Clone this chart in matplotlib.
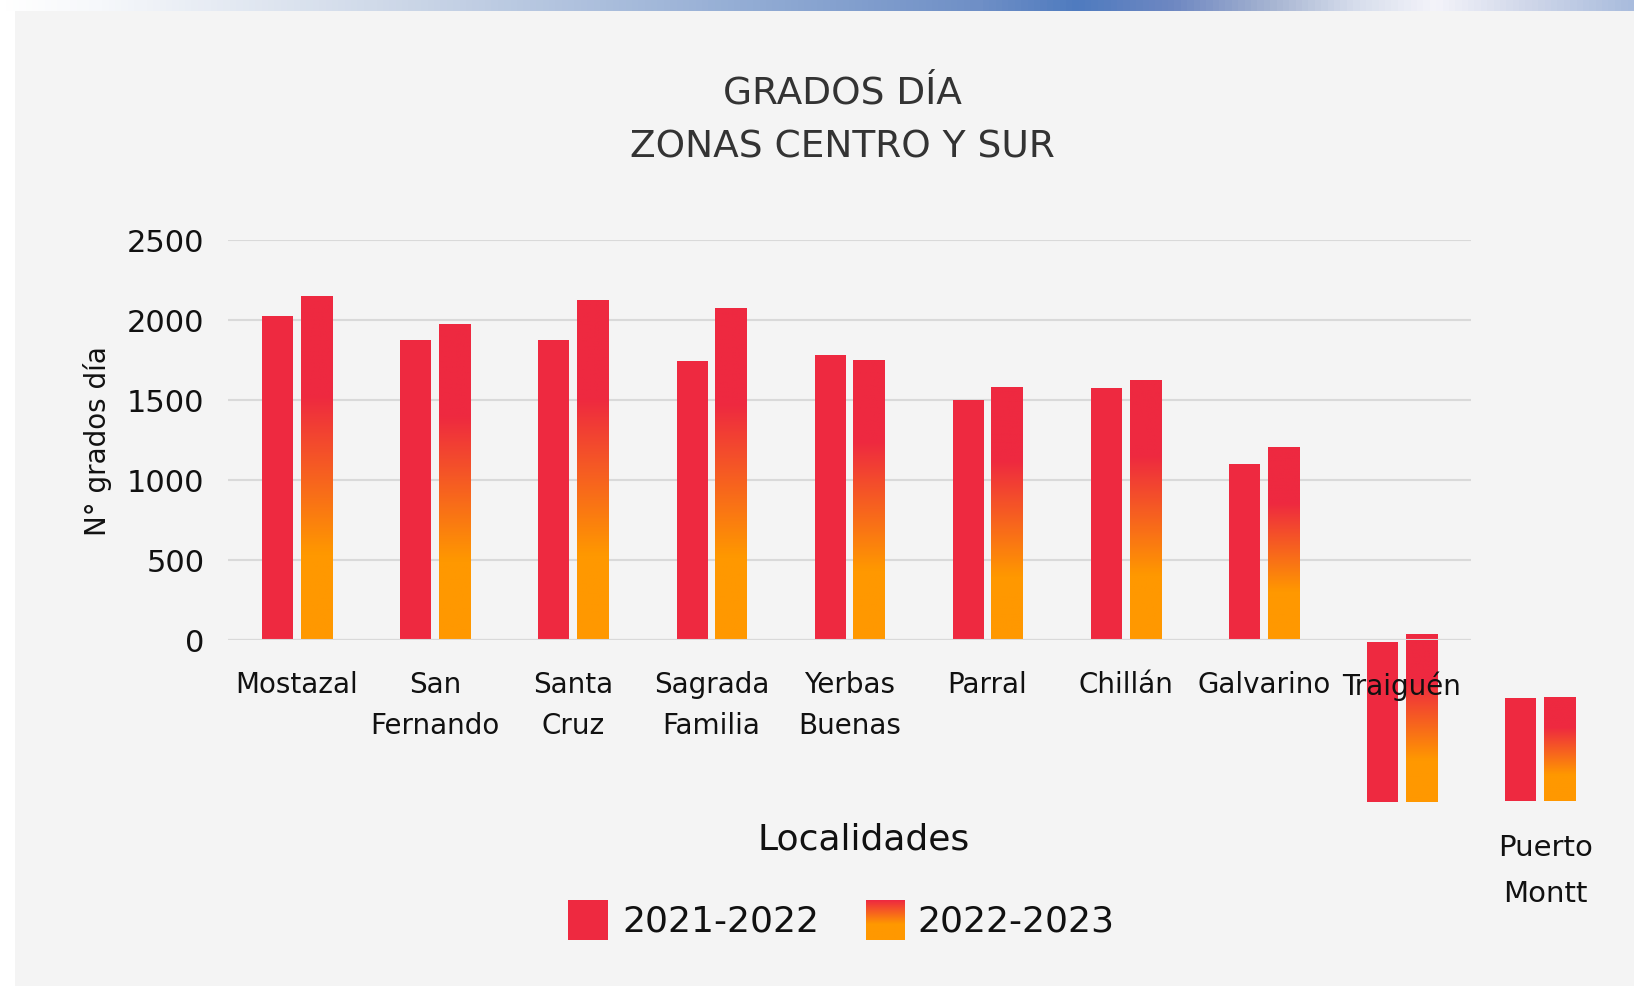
import numpy as np
import matplotlib.pyplot as plt
from matplotlib.colors import LinearSegmentedColormap
from matplotlib.patches import Rectangle

# datos
localidades = ['Mostazal', 'San\nFernando', 'Santa\nCruz', 'Sagrada\nFamilia', 'Yerbas\nBuenas',
               'Parral', 'Chillán', 'Galvarino', 'Traiguén', 'Puerto\nMontt']
t_2122 = [2023, 1873, 1873, 1744, 1779, 1498, 1573, 1100, 1000, 644]
t_2223 = [2150, 1975, 2125, 2073, 1744, 1579, 1625, 1204, 1050, 644]
# las dos ultimas barras aparecen desplazadas en la imagen original
base = [0, 0, 0, 0, 0, 0, 0, 0, -1015, -1008]
yticks = [0, 500, 1000, 1500, 2000, 2500]

ROJO = '#EE2940'
NARANJA = '#FF9800'
grad_cmap = LinearSegmentedColormap.from_list(
    'grad', [(0, NARANJA), (0.25, NARANJA), (0.71, ROJO), (1, ROJO)])

plt.rcParams['font.family'] = ['DejaVu Sans']

W, H = 1634, 987
fig = plt.figure(figsize=(W / 100, H / 100), dpi=100, facecolor='white')

# franja superior y panel gris
banner = fig.add_axes([0, 1 - 12 / H, 1, 12 / H])
banner_cmap = LinearSegmentedColormap.from_list(
    'banner', [(0, '#FFFFFF'), (0.06, '#F6F8FB'), (0.25, '#CBD6E7'), (0.45, '#95AED5'),
               (0.6, '#6F8FC6'), (0.66, '#4F7BBF'), (0.72, '#6F88C2'), (0.78, '#A7B5D2'),
               (0.83, '#D6DDEC'), (0.88, '#F4F4FA'), (0.93, '#D4DAEB'), (1, '#A9BCDD')])
banner.imshow(np.linspace(0, 1, 512).reshape(1, -1), cmap=banner_cmap, aspect='auto')
banner.axis('off')
fig.patches.append(Rectangle((15 / W, 0), 1, 1 - 12 / H, transform=fig.transFigure,
                             facecolor='#F4F4F4', edgecolor='none', zorder=-10))

ax = fig.add_axes([228 / W, 1 - 640.7 / H, 1243 / W, 400 / H])
ax.set_facecolor('none')

x = np.arange(len(localidades))
w = 0.225
off = 0.14
b1 = ax.bar(x - off, t_2122, w, bottom=base, color=ROJO, zorder=3, clip_on=False)
b2 = ax.bar(x + off, t_2223, w, bottom=base, color='none', zorder=3, clip_on=False)

grad = np.linspace(0, 1, 256).reshape(-1, 1)
for p in b2:
    x0, y0, bw, bh = p.get_x(), p.get_y(), p.get_width(), p.get_height()
    ax.imshow(grad, cmap=grad_cmap, origin='lower', aspect='auto',
              extent=[x0, x0 + bw, y0, y0 + bh], zorder=3, clip_on=False)

ax.set_xlim(-0.5, 8.5)
ax.set_ylim(0, 2500)
ax.set_yticks(yticks)
ax.set_xticks(x[:9])
ax.set_xticklabels(localidades[:9], fontsize=20, linespacing=1.6, color='#111111')
ax.tick_params(axis='x', length=0, pad=22)
ax.tick_params(axis='y', length=0, pad=17, labelsize=22, labelcolor='#111111')
ax.yaxis.grid(True, color='#D9D9D9', linewidth=1.5, zorder=0)
ax.set_axisbelow(True)
ax.xaxis.set_zorder(5)
ax.axhline(0, color='#D9D9D9', linewidth=1.5, zorder=4)
for s in ax.spines.values():
    s.set_visible(False)

# Puerto Montt queda fuera del eje
ax.text(x[9] + 0.04, -1440, localidades[9], ha='center', va='center', fontsize=21,
        linespacing=1.85, color='#111111', clip_on=False)

fig.text(842 / W, 1 - 93 / H, 'GRADOS DÍA', ha='center', va='center', fontsize=27, color='#333333')
fig.text(842 / W, 1 - 148 / H, 'ZONAS CENTRO Y SUR', ha='center', va='center', fontsize=27, color='#333333')
fig.text(97 / W, 1 - 441 / H, 'N° grados día', rotation=90, ha='center', va='center', fontsize=20, color='#111111')
fig.text(864 / W, 1 - 840 / H, 'Localidades', ha='center', va='center', fontsize=26, color='#111111')

# leyenda manual
fig.patches.append(Rectangle((568 / W, 1 - 941 / H), 40 / W, 40 / H, transform=fig.transFigure,
                             facecolor=ROJO, edgecolor='none'))
leg = fig.add_axes([866 / W, 1 - 941 / H, 39 / W, 40 / H])
leg.imshow(np.linspace(0, 1, 64).reshape(-1, 1), cmap=LinearSegmentedColormap.from_list(
    'leg', [(0, NARANJA), (0.4, NARANJA), (1, ROJO)]), origin='lower', aspect='auto')
leg.axis('off')
fig.text(622 / W, 1 - 921 / H, '2021-2022', ha='left', va='center', fontsize=26, color='#111111')
fig.text(917 / W, 1 - 921 / H, '2022-2023', ha='left', va='center', fontsize=26, color='#111111')

fig.savefig('out.png', dpi=100, facecolor=fig.get_facecolor())
